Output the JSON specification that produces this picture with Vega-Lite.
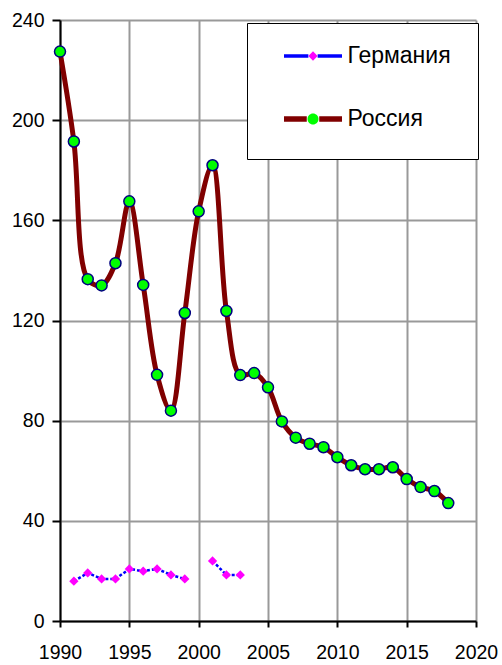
{
  "$schema": "https://vega.github.io/schema/vega-lite/v6.json",
  "width": 416,
  "height": 601,
  "autosize": {"type": "none"},
  "padding": {"left": 60, "top": 20, "right": 26, "bottom": 44},
  "background": "white",
  "config": {
    "view": {"stroke": null},
    "font": "Liberation Sans",
    "axis": {
      "gridColor": "#999999",
      "gridWidth": 2,
      "gridOpacity": 1,
      "domainColor": "#000000",
      "domainWidth": 2,
      "tickColor": "#000000",
      "tickWidth": 2,
      "labelColor": "#000000",
      "labelFontSize": 19.5,
      "labelFont": "Liberation Sans",
      "title": null
    },
    "legend": {
      "orient": "none",
      "title": null
    }
  },
  "data": {
    "values": [
      {"year": 1990, "series": "Россия", "value": 227.4},
      {"year": 1991, "series": "Россия", "value": 191.5},
      {"year": 1992, "series": "Россия", "value": 136.5},
      {"year": 1993, "series": "Россия", "value": 134.0},
      {"year": 1994, "series": "Россия", "value": 142.9},
      {"year": 1995, "series": "Россия", "value": 167.6},
      {"year": 1996, "series": "Россия", "value": 134.2},
      {"year": 1997, "series": "Россия", "value": 98.3},
      {"year": 1998, "series": "Россия", "value": 84.0},
      {"year": 1999, "series": "Россия", "value": 123.0},
      {"year": 2000, "series": "Россия", "value": 163.6},
      {"year": 2001, "series": "Россия", "value": 182.0},
      {"year": 2002, "series": "Россия", "value": 123.8},
      {"year": 2003, "series": "Россия", "value": 98.2},
      {"year": 2004, "series": "Россия", "value": 99.0},
      {"year": 2005, "series": "Россия", "value": 93.3},
      {"year": 2006, "series": "Россия", "value": 79.7},
      {"year": 2007, "series": "Россия", "value": 73.2},
      {"year": 2008, "series": "Россия", "value": 70.8},
      {"year": 2009, "series": "Россия", "value": 69.4},
      {"year": 2010, "series": "Россия", "value": 65.4},
      {"year": 2011, "series": "Россия", "value": 62.2},
      {"year": 2012, "series": "Россия", "value": 60.6},
      {"year": 2013, "series": "Россия", "value": 60.6},
      {"year": 2014, "series": "Россия", "value": 61.4},
      {"year": 2015, "series": "Россия", "value": 56.7},
      {"year": 2016, "series": "Россия", "value": 53.5},
      {"year": 2017, "series": "Россия", "value": 51.9},
      {"year": 2018, "series": "Россия", "value": 47.1},
      {"year": 1991, "series": "Германия", "value": 15.9},
      {"year": 1992, "series": "Германия", "value": 19.2},
      {"year": 1993, "series": "Германия", "value": 16.8},
      {"year": 1994, "series": "Германия", "value": 16.8},
      {"year": 1995, "series": "Германия", "value": 20.8},
      {"year": 1996, "series": "Германия", "value": 19.9},
      {"year": 1997, "series": "Германия", "value": 20.8},
      {"year": 1998, "series": "Германия", "value": 18.4},
      {"year": 1999, "series": "Германия", "value": 16.8},
      {"year": 2000, "series": "Германия", "value": null},
      {"year": 2001, "series": "Германия", "value": 24.0},
      {"year": 2002, "series": "Германия", "value": 18.4},
      {"year": 2003, "series": "Германия", "value": 18.4}
    ]
  },
  "encoding": {
    "x": {
      "field": "year",
      "type": "quantitative",
      "scale": {"domain": [1990, 2020], "nice": false, "zero": false},
      "axis": {
        "values": [1990, 1995, 2000, 2005, 2010, 2015, 2020],
        "format": "d",
        "grid": true,
        "tickSize": 6,
        "labelPadding": 16,
        "labelFlush": false,
        "labelOverlap": false
      }
    },
    "y": {
      "field": "value",
      "type": "quantitative",
      "scale": {"domain": [0, 240], "nice": false},
      "axis": {
        "values": [0, 40, 80, 120, 160, 200, 240],
        "grid": true,
        "tickSize": 8,
        "labelPadding": 8
      }
    }
  },
  "layer": [
    {
      "transform": [{"filter": "datum.series === 'Германия'"}],
      "mark": {"type": "line", "stroke": "#0000FF", "strokeWidth": 2.5, "strokeDash": [3, 2], "invalid": "break-paths-filter-domains"},
      "encoding": {}
    },
    {
      "transform": [{"filter": "datum.series === 'Россия'"}],
      "mark": {"type": "line", "interpolate": "catmull-rom", "strokeWidth": 5, "strokeCap": "round", "strokeJoin": "round"},
      "encoding": {
        "stroke": {
          "field": "series",
          "type": "nominal",
          "scale": {"domain": ["Германия", "Россия"], "range": ["#0000FF", "#800000"]},
          "legend": {
            "orient": "none",
            "legendX": 187,
            "legendY": 2,
            "padding": 22,
            "clipHeight": 24,
            "rowPadding": 39,
            "symbolSize": 3364,
            "symbolOffset": 32.5,
            "labelOffset": 23,
            "labelFontSize": 23,
            "labelFont": "Liberation Sans",
            "labelColor": "#000000",
            "zindex": 2,
            "symbolType": "M-1,0H-0.215M0.215,0H1",
            "symbolDash": [1, 0],
            "encode": {
              "symbols": {"update": {
                "shape": {"signal": "datum.value === 'Россия' ? 'M-1,0H-0.215M0.215,0H1' : 'M-1,0H-0.16M0.16,0H1'"},
                "strokeWidth": {"signal": "datum.value === 'Россия' ? 5.5 : 3.5"},
                "strokeCap": {"value": "butt"},
                "strokeDash": {"value": [1, 0]},
                "fill": {"value": "transparent"},
                "opacity": {"value": 1}
              }}
            }
          }
        }
      }
    },
    {
      "transform": [{"filter": "isValid(datum.value)"}],
      "mark": {"type": "point", "filled": true, "opacity": 1, "size": 3364, "strokeWidth": 1.5},
      "encoding": {
        "fill": {
          "field": "series",
          "type": "nominal",
          "scale": {"range": ["#FF00FF", "#00FF00"]},
          "legend": {
            "orient": "none",
            "legendX": 187,
            "legendY": 3,
            "padding": 20,
            "clipHeight": 26,
            "rowPadding": 30,
            "symbolSize": 3364,
            "symbolOffset": 16,
            "labelOffset": 115,
            "labelFontSize": 20,
            "labelBaseline": "top",
            "labelFont": "Liberation Sans",
            "zindex": 1,
            "fillColor": "#FFFFFF",
            "strokeColor": "#000000",
            "labelExpr": "'\u2003\u2003\u2003\u2003\u2003'",
            "encode": {
              "legend": {"update": {"strokeWidth": {"value": 2}}},
              "symbols": {"update": {
                "stroke": {"signal": "datum.value === 'Россия' ? '#000080' : 'transparent'"},
                "strokeWidth": {"value": 1.5},
                "opacity": {"value": 1}
              }}
            }
          }
        },
        "shape": {
          "field": "series",
          "type": "nominal",
          "scale": {"range": ["M0,-0.16L0.16,0L0,0.16L-0.16,0Z", "M-0.19,0A0.19,0.19,0,1,0,0.19,0A0.19,0.19,0,1,0,-0.19,0Z"]},
          "legend": {
            "orient": "none",
            "legendX": 187,
            "legendY": 3,
            "padding": 20,
            "clipHeight": 26,
            "rowPadding": 30,
            "symbolSize": 3364,
            "symbolOffset": 16,
            "labelOffset": 115,
            "labelFontSize": 20,
            "labelBaseline": "top",
            "labelFont": "Liberation Sans",
            "zindex": 1,
            "fillColor": "#FFFFFF",
            "strokeColor": "#000000",
            "labelExpr": "'\u2003\u2003\u2003\u2003\u2003'",
            "encode": {
              "legend": {"update": {"strokeWidth": {"value": 2}}},
              "symbols": {"update": {
                "stroke": {"signal": "datum.value === 'Россия' ? '#000080' : 'transparent'"},
                "strokeWidth": {"value": 1.5},
                "opacity": {"value": 1}
              }}
            }
          }
        },
        "stroke": {
          "condition": {"test": "datum.series === 'Россия'", "value": "#000080"},
          "value": "transparent"
        }
      }
    }
  ]
}
